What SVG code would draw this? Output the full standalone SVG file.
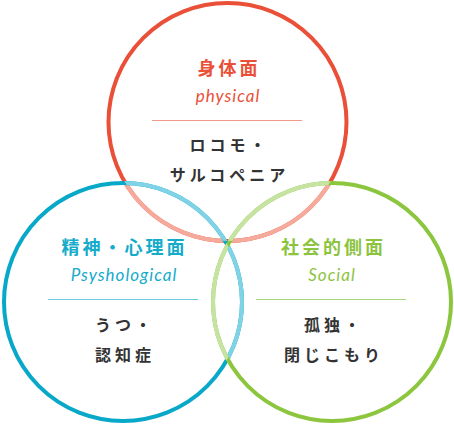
<svg xmlns="http://www.w3.org/2000/svg" width="454" height="424" viewBox="0 0 454 424">
<style>
.ring{fill:none;stroke-width:4}
.title{font-family:"Noto Sans CJK JP","Noto Sans",sans-serif;font-weight:700;font-size:18px;letter-spacing:3px;text-anchor:middle}
.en{font-family:Lato,"Open Sans",sans-serif;font-weight:400;font-style:italic;font-size:17px;letter-spacing:1px;text-anchor:middle}
.body{font-family:"Noto Sans CJK JP","Noto Sans",sans-serif;font-weight:700;font-size:16px;letter-spacing:4px;text-anchor:middle;fill:#333333}
.rule{stroke-width:1}
</style>
<defs>
<clipPath id="notRed"><circle cx="123" cy="302" r="119"/><circle cx="332" cy="302" r="119"/></clipPath>
<clipPath id="notBlue"><circle cx="227.5" cy="122" r="119"/><circle cx="332" cy="302" r="119"/></clipPath>
<clipPath id="notGreen"><circle cx="227.5" cy="122" r="119"/><circle cx="123" cy="302" r="119"/></clipPath>
</defs>
<g id="physical">
<circle class="ring" cx="227.5" cy="122" r="119" stroke="#ea5038"/>
<circle class="ring" cx="227.5" cy="122" r="119" stroke="#f6aa9c" clip-path="url(#notRed)"/>
<text class="title" x="229" y="75" fill="#ea5038">身体面</text>
<text class="en" x="228" y="102" fill="#ea5038">physical</text>
<line class="rule" x1="152" y1="120.5" x2="302" y2="120.5" stroke="#f29a8a"/>
<text class="body" x="229.5" y="151">ロコモ・</text>
<text class="body" x="229.5" y="181">サルコペニア</text>
</g>
<g id="psychological">
<circle class="ring" cx="123" cy="302" r="119" stroke="#08a8c8"/>
<circle class="ring" cx="123" cy="302" r="119" stroke="#80d3e6" clip-path="url(#notBlue)"/>
<text class="title" x="124.5" y="254" fill="#15abca">精神・心理面</text>
<text class="en" x="124" y="281" fill="#15abca">Psyshological</text>
<line class="rule" x1="48" y1="299.5" x2="198" y2="299.5" stroke="#6fcbe0"/>
<text class="body" x="125" y="331">うつ・</text>
<text class="body" x="125" y="361">認知症</text>
</g>
<g id="social">
<circle class="ring" cx="332" cy="302" r="119" stroke="#8cc63f"/>
<circle class="ring" cx="332" cy="302" r="119" stroke="#c6e3a2" clip-path="url(#notGreen)"/>
<text class="title" x="333.5" y="254" fill="#8cc43f">社会的側面</text>
<text class="en" x="332" y="281" fill="#8cc43f">Social</text>
<line class="rule" x1="256" y1="299.5" x2="406" y2="299.5" stroke="#a9d57a"/>
<text class="body" x="334" y="331">孤独・</text>
<text class="body" x="334" y="361">閉じこもり</text>
</g>
<g id="connectors"></g>
</svg>
